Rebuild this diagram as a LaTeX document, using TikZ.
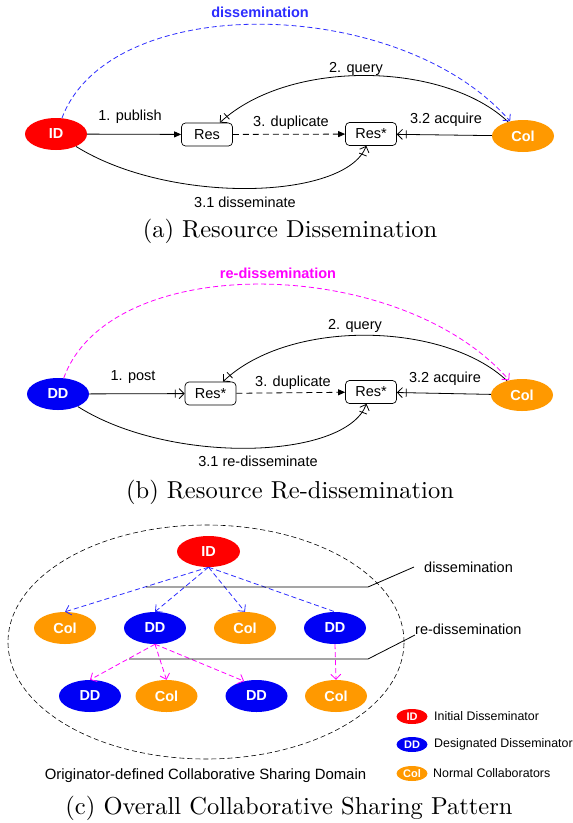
\documentclass[tikz,border=0pt]{standalone}
\usepackage{fontspec}
\usepackage{graphicx}
\newfontfamily\arial{Liberation Sans}
\usetikzlibrary{shapes.geometric,arrows.meta,positioning}
\definecolor{idred}{RGB}{255,0,0}
\definecolor{ddblue}{RGB}{0,0,245}
\definecolor{colorange}{RGB}{255,153,0}
\definecolor{dissblue}{RGB}{45,45,255}
\definecolor{redissmag}{RGB}{255,0,255}
\newcommand{\captionline}[1]{\scalebox{2.45}{\fontsize{10}{12}\selectfont #1}}

\begin{document}
\begin{tikzpicture}[x=1pt,y=-1pt,
    role/.style={ellipse, minimum width=62pt, minimum height=32pt, inner sep=0pt, text=white, font=\arial\bfseries\fontsize{14.5}{16}\selectfont},
    idnode/.style={role, fill=idred},
    ddnode/.style={role, fill=ddblue},
    colnode/.style={role, fill=colorange},
    keynode/.style={minimum width=31pt, minimum height=15pt, font=\arial\bfseries\fontsize{11}{12}\selectfont},
    resbox/.style={draw, rounded corners=4pt, minimum width=51pt, minimum height=23pt, inner sep=0pt, line width=0.7pt, font=\arial\fontsize{14.5}{16}\selectfont},
    lbl/.style={font=\arial\fontsize{14.5}{16}\selectfont, inner sep=0pt},
    keylbl/.style={font=\arial\fontsize{12.4}{14}\selectfont, inner sep=0pt, anchor=west},
    captext/.style={inner sep=0pt},
    link/.style={line width=0.8pt},
    longdash/.style={dash pattern=on 6pt off 4pt},
    solidtip/.style={link, -{Triangle[length=7pt,width=6pt]}},
    bartip/.style={link, -{Bar[width=8pt,sep=3pt] Straight Barb[length=5pt,width=10pt]}},
    dissem/.style={link, dissblue, dash pattern=on 5pt off 3pt, -{Straight Barb[length=5pt,width=10pt]}},
    rediss/.style={link, redissmag, dash pattern=on 5pt off 3pt, -{Straight Barb[length=5pt,width=10pt]}}
]
\useasboundingbox (0,0) rectangle (573,823);

% (a) resource dissemination
\node (ida) [idnode] at (56,134) {ID};
\node (resa) [resbox] at (207,134.5) {Res};
\node (resas) [resbox] at (371,134) {Res*};
\node (cola) [colnode] at (523,136) {Col};

\draw[solidtip] (ida) -- (resa);
\draw[solidtip, longdash] (resa) -- (resas);
\draw[bartip] (cola) -- (resas);
\draw[bartip] (cola) .. controls (445,62) and (290,58) .. (resa);
\draw[bartip] (ida) .. controls (170,205) and (345,200) .. (resas);
\draw[dissem] (ida) .. controls (110,-10) and (400,-5) .. (cola);

\node (publish) [lbl] at (130,117) {1. publish};
\node (dupa) [lbl] at (291,123) {3. duplicate};
\node (acqa) [lbl] at (446,120) {3.2 acquire};
\node (querya) [lbl] at (356,69) {2. query};
\node (dissa) [lbl] at (245,202) {3.1 disseminate};
\node (dissemtxt) [lbl, dissblue, font=\arial\bfseries\fontsize{14.5}{16}\selectfont] at (260,12) {dissemination};
\node (capa) [captext] at (290,231) {\captionline{(a) Resource Dissemination}};

% (b) resource re-dissemination
\node (ddb) [ddnode] at (58,394) {DD};
\node (resb) [resbox] at (210.5,393.5) {Res*};
\node (resbs) [resbox] at (371,392) {Res*};
\node (colb) [colnode] at (522,395) {Col};

\draw[bartip] (ddb) -- (resb);
\draw[solidtip, longdash] (resb) -- (resbs);
\draw[bartip] (colb) -- (resbs);
\draw[bartip] (colb) .. controls (445,322) and (290,318) .. (resb);
\draw[bartip] (ddb) .. controls (170,465) and (345,460) .. (resbs);
\draw[rediss] (ddb) .. controls (110,250) and (400,255) .. (colb);

\node (post) [lbl] at (133,377) {1. post};
\node (dupb) [lbl] at (293,383) {3. duplicate};
\node (acqb) [lbl] at (445,379) {3.2 acquire};
\node (queryb) [lbl] at (355,326) {2. query};
\node (redissb) [lbl] at (258,461) {3.1 re-disseminate};
\node (redisstxt) [lbl, redissmag, font=\arial\bfseries\fontsize{14.5}{16}\selectfont] at (278,273) {re-dissemination};
\node (capb) [captext] at (290,492) {\captionline{(b) Resource Re-dissemination}};

% (c) overall pattern
\node (domain) [ellipse, draw, dash pattern=on 5pt off 3pt, line width=0.6pt, minimum width=396pt, minimum height=234pt] at (206,642) {};
\node (cid) [idnode, minimum width=63pt, minimum height=31pt] at (208.5,551.5) {ID};
\node (ccola) [colnode] at (65,628) {Col};
\node (cdda) [ddnode] at (155,628) {DD};
\node (ccolb) [colnode] at (245,628) {Col};
\node (cddb) [ddnode] at (335,628) {DD};
\node (cddc) [ddnode] at (90,696) {DD};
\node (ccolc) [colnode] at (166.5,696) {Col};
\node (cddd) [ddnode] at (256.5,696) {DD};
\node (ccold) [colnode] at (336,696) {Col};

\draw[dissem] (cid.south) -- (ccola.north);
\draw[dissem] (cid.south) -- (cdda.north);
\draw[dissem] (cid.south) -- (ccolb.north);
\draw[dissem, -] (cid.south) -- (cddb.north);
\draw[rediss] (cdda.south) -- (cddc.north);
\draw[rediss] (cdda.south) -- (ccolc.north);
\draw[rediss] (cdda.south) -- (cddd.130);
\draw[rediss] (cddb.south) -- (ccold.north);

\coordinate (dstart) at (146,587);
\coordinate (dbend) at (368,587);
\coordinate (dend) at (414,567);
\coordinate (rstart) at (129,659);
\coordinate (rbend) at (368,659);
\coordinate (rend) at (415,635);
\draw[line width=0.8pt] (dstart) -- (dbend) -- (dend);
\draw[line width=0.8pt] (rstart) -- (rbend) -- (rend);
\node (dpoint) [lbl, anchor=west] at (424,567) {dissemination};
\node (rpoint) [lbl, anchor=west] at (415,629) {re-dissemination};
\node (domtxt) [lbl, font=\arial\fontsize{14.9}{17}\selectfont] at (205.5,776) {Originator-defined Collaborative Sharing Domain};

% key
\node (kid) [idnode, keynode] at (412,716.5) {ID};
\node (kdd) [ddnode, keynode] at (412,744.5) {DD};
\node (kcol) [colnode, keynode] at (412,773.5) {Col};
\node (kidtxt) [keylbl] at (434,716.5) {Initial Disseminator};
\node (kddtxt) [keylbl] at (434,744.5) {Designated Disseminator};
\node (kcoltxt) [keylbl] at (433,773) {Normal Collaborators};

\node (capc) [captext] at (289,808) {\captionline{(c) Overall Collaborative Sharing Pattern}};
\end{tikzpicture}
\end{document}
